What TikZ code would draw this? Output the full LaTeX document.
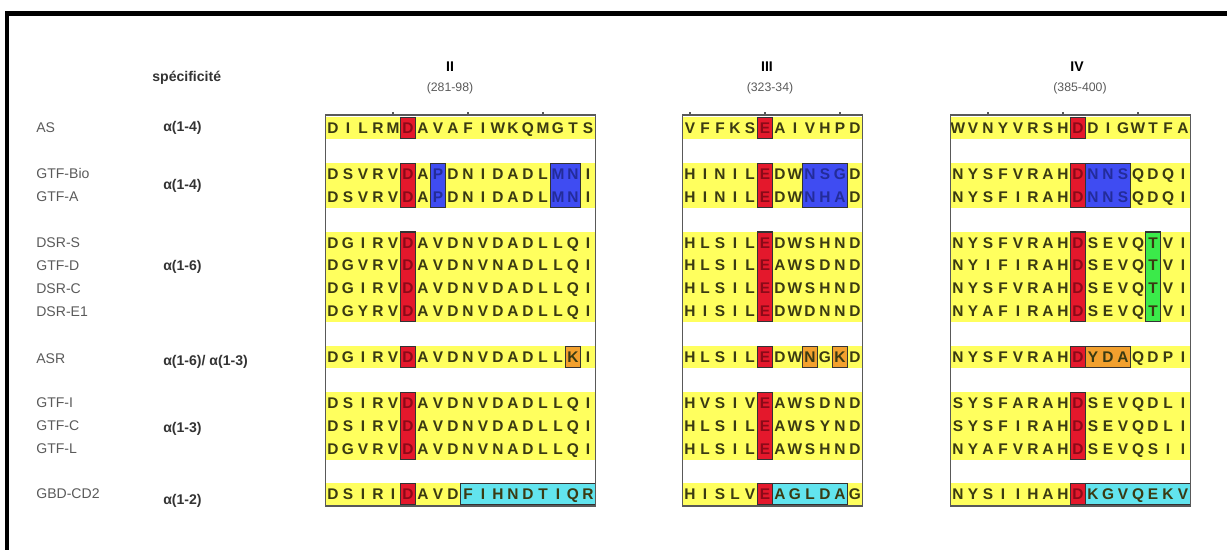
\documentclass[tikz,border=0pt]{standalone}
\usepackage{fontspec}
\setmainfont{Liberation Sans}
\setsansfont{Liberation Sans}
\usepackage{tikz}
\usetikzlibrary{positioning}
\definecolor{bandc}{HTML}{FFFF5E}
\definecolor{seqc}{HTML}{3A3A12}
\definecolor{namec}{HTML}{5A5A5A}
\definecolor{redc}{HTML}{E4182C}
\definecolor{redtx}{HTML}{8C0A18}
\definecolor{bluec}{HTML}{3F4CF2}
\definecolor{bluetx}{HTML}{232C9A}
\definecolor{orangec}{HTML}{F2A02E}
\definecolor{greenc}{HTML}{3BEA4A}
\definecolor{cyanc}{HTML}{62E4EE}
% row centre (pixels from the top)
\newcommand{\rowy}[1]{(128+22.9*(#1))}
% yellow band behind rows #1..#2
\newcommand{\yband}[2]{%
  \fill[bandc] (-7.5,{\rowy{#1}-11}) rectangle ({15*\ncol-7.5},{\rowy{#2}+11});
}
% coloured box over columns #1..#2, rows #3..#4
\newcommand{\hlbox}[5]{%
  \filldraw[#5] ({15*#1-7.5},{\rowy{#3}-10.5}) rectangle ({15*#2+7.5},{\rowy{#4}+10.5});
}
% letters of row #2 from column #3 on, in colour #5 ('-' = left for a box)
\newcommand{\seqpart}[5]{%
  \foreach \ch [count=\k from #3] in {#4} {%
    \if\ch-\relax\else\node[aa,text=#5] (#1-\k) at ({15*\k},{\rowy{#2}+5.5}) {\ch};\fi}
}
% one aligned sequence
\newcommand{\seqline}[3]{\seqpart{#1}{#2}{0}{#3}{seqc}}

\begin{document}
\begin{tikzpicture}[x=0.02cm,y=-0.02cm,
  aa/.style={font=\bfseries\fontsize{8.8}{9}\selectfont,text=seqc,inner sep=0pt,anchor=base},
  nm/.style={font=\fontsize{8}{9}\selectfont,text=namec,inner sep=0pt,anchor=west},
  sp/.style={font=\bfseries\fontsize{8}{9}\selectfont,text=black!80,inner sep=0pt,anchor=west},
  hd/.style={font=\bfseries\fontsize{8}{9}\selectfont,inner sep=0pt},
  rg/.style={font=\fontsize{7}{8}\selectfont,text=namec,inner sep=0pt},
  frm/.style={draw=black!65,line width=0.6pt},
  redbox/.style={fill=redc,draw=black!80,line width=0.6pt},
  bluebox/.style={fill=bluec,draw=black!80,line width=0.6pt},
  orbox/.style={fill=orangec,draw=black!80,line width=0.6pt},
  grbox/.style={fill=greenc,draw=black!80,line width=0.6pt},
  cyanbox/.style={fill=cyanc,draw=black!80,line width=0.6pt}]
  \useasboundingbox (0,0) rectangle (1227,549);
  \draw[line width=2.3pt] (7,13.5) rectangle (1260,590);

  % names and specificities
  \node[sp] (spec) at (152,78) {spécificité};
  \node[nm] (as) at (36,{\rowy{0}}) {AS};
  \node[nm] (bio) at (36,{\rowy{2}}) {GTF-Bio};
  \node[nm] (gtfa) at (36,{\rowy{3}}) {GTF-A};
  \node[nm] (dsrs) at (36,{\rowy{5}}) {DSR-S};
  \node[nm] (gtfd) at (36,{\rowy{6}}) {GTF-D};
  \node[nm] (dsrc) at (36,{\rowy{7}}) {DSR-C};
  \node[nm] (dsre) at (36,{\rowy{8}}) {DSR-E1};
  \node[nm] (asr) at (36,{\rowy{10}+2}) {ASR};
  \node[nm] (gtfi) at (36,{\rowy{12}}) {GTF-I};
  \node[nm] (gtfc) at (36,{\rowy{13}}) {GTF-C};
  \node[nm] (gtfl) at (36,{\rowy{14}}) {GTF-L};
  \node[nm] (gbd) at (36,{\rowy{16}-1}) {GBD-CD2};
  \node[sp] (sas) at (163,{\rowy{0}}) {α(1-4)};
  \node[sp] (sgtf) at (163,186) {α(1-4)};
  \node[sp] (sdsr) at (163,{\rowy{6}+1}) {α(1-6)};
  \node[sp] (sasr) at (163,{\rowy{10}+5}) {α(1-6)/ α(1-3)};
  \node[sp] (sgtfi) at (163,{\rowy{13}+3}) {α(1-3)};
  \node[sp] (sgbd) at (163,{\rowy{16}+6}) {α(1-2)};

  % region II
  \begin{scope}[shift={(333,0)}]
    \def\ncol{18}
    \node[hd] (h2) at (117,67) {II};
    \node[rg] (r2) at (117,88) {(281-98)};
    \foreach \a/\b in {0/0,2/3,5/8,10/10,12/14,16/16} {\yband{\a}{\b}}
    \hlbox{16}{16}{10}{10}{orbox}
    \hlbox{9}{17}{16}{16}{cyanbox}
    \foreach \a/\b in {0/0,2/3,5/8,10/10,12/14,16/16} {\hlbox{5}{5}{\a}{\b}{redbox}}
    \hlbox{7}{7}{2}{3}{bluebox}
    \hlbox{15}{16}{2}{3}{bluebox}
    \seqline{a2}{0}{D,I,L,R,M,-,A,V,A,F,I,W,K,Q,M,G,T,S}
    \seqline{b2}{2}{D,S,V,R,V,-,A,-,D,N,I,D,A,D,L,-,-,I}
    \seqline{c2}{3}{D,S,V,R,V,-,A,-,D,N,I,D,A,D,L,-,-,I}
    \seqline{d2}{5}{D,G,I,R,V,-,A,V,D,N,V,D,A,D,L,L,Q,I}
    \seqline{e2}{6}{D,G,V,R,V,-,A,V,D,N,V,N,A,D,L,L,Q,I}
    \seqline{f2}{7}{D,G,I,R,V,-,A,V,D,N,V,D,A,D,L,L,Q,I}
    \seqline{g2}{8}{D,G,Y,R,V,-,A,V,D,N,V,D,A,D,L,L,Q,I}
    \seqline{h2}{10}{D,G,I,R,V,-,A,V,D,N,V,D,A,D,L,L,K,I}
    \seqline{i2}{12}{D,S,I,R,V,-,A,V,D,N,V,D,A,D,L,L,Q,I}
    \seqline{j2}{13}{D,S,I,R,V,-,A,V,D,N,V,D,A,D,L,L,Q,I}
    \seqline{k2}{14}{D,G,V,R,V,-,A,V,D,N,V,N,A,D,L,L,Q,I}
    \seqline{l2}{16}{D,S,I,R,I,-,A,V,D,F,I,H,N,D,T,I,Q,R}
    \foreach \r in {0,2,3,5,6,7,8,10,12,13,14,16} {\seqpart{x2\r}{\r}{5}{D}{redtx}}
    \seqpart{y2b}{2}{7}{P}{bluetx}
    \seqpart{y2c}{3}{7}{P}{bluetx}
    \seqpart{z2b}{2}{15}{M,N}{bluetx}
    \seqpart{z2c}{3}{15}{M,N}{bluetx}
    \draw[frm] (-7.5,115) rectangle ({15*\ncol-7.5},506);
    \foreach \t in {4,9,14} {\draw[frm] ({15*\t},115) -- ({15*\t},112);}
  \end{scope}

  % region III
  \begin{scope}[shift={(690,0)}]
    \def\ncol{12}
    \node[hd] (h3) at (77,67) {III};
    \node[rg] (r3) at (80,88) {(323-34)};
    \foreach \a/\b in {0/0,2/3,5/8,10/10,12/14,16/16} {\yband{\a}{\b}}
    \hlbox{8}{8}{10}{10}{orbox}
    \hlbox{10}{10}{10}{10}{orbox}
    \hlbox{6}{10}{16}{16}{cyanbox}
    \foreach \a/\b in {0/0,2/3,5/8,10/10,12/14,16/16} {\hlbox{5}{5}{\a}{\b}{redbox}}
    \hlbox{8}{10}{2}{3}{bluebox}
    \seqline{a3}{0}{V,F,F,K,S,-,A,I,V,H,P,D}
    \seqline{b3}{2}{H,I,N,I,L,-,D,W,-,-,-,D}
    \seqline{c3}{3}{H,I,N,I,L,-,D,W,-,-,-,D}
    \seqline{d3}{5}{H,L,S,I,L,-,D,W,S,H,N,D}
    \seqline{e3}{6}{H,L,S,I,L,-,A,W,S,D,N,D}
    \seqline{f3}{7}{H,L,S,I,L,-,D,W,S,H,N,D}
    \seqline{g3}{8}{H,I,S,I,L,-,D,W,D,N,N,D}
    \seqline{h3}{10}{H,L,S,I,L,-,D,W,N,G,K,D}
    \seqline{i3}{12}{H,V,S,I,V,-,A,W,S,D,N,D}
    \seqline{j3}{13}{H,L,S,I,L,-,A,W,S,Y,N,D}
    \seqline{k3}{14}{H,L,S,I,L,-,A,W,S,H,N,D}
    \seqline{l3}{16}{H,I,S,L,V,-,A,G,L,D,A,G}
    \foreach \r in {0,2,3,5,6,7,8,10,12,13,14,16} {\seqpart{x3\r}{\r}{5}{E}{redtx}}
    \seqpart{y3b}{2}{8}{N,S,G}{bluetx}
    \seqpart{y3c}{3}{8}{N,H,A}{bluetx}
    \draw[frm] (-7.5,115) rectangle ({15*\ncol-7.5},506);
    \foreach \t in {0,5,10} {\draw[frm] ({15*\t},115) -- ({15*\t},112);}
  \end{scope}

  % region IV
  \begin{scope}[shift={(958,0)}]
    \def\ncol{16}
    \node[hd] (h4) at (119,67) {IV};
    \node[rg] (r4) at (122,88) {(385-400)};
    \foreach \a/\b in {0/0,2/3,5/8,10/10,12/14,16/16} {\yband{\a}{\b}}
    \hlbox{13}{13}{5}{8}{grbox}
    \hlbox{9}{11}{10}{10}{orbox}
    \hlbox{9}{15}{16}{16}{cyanbox}
    \foreach \a/\b in {0/0,2/3,5/8,10/10,12/14,16/16} {\hlbox{8}{8}{\a}{\b}{redbox}}
    \hlbox{9}{11}{2}{3}{bluebox}
    \seqline{a4}{0}{W,V,N,Y,V,R,S,H,-,D,I,G,W,T,F,A}
    \seqline{b4}{2}{N,Y,S,F,V,R,A,H,-,-,-,-,Q,D,Q,I}
    \seqline{c4}{3}{N,Y,S,F,I,R,A,H,-,-,-,-,Q,D,Q,I}
    \seqline{d4}{5}{N,Y,S,F,V,R,A,H,-,S,E,V,Q,T,V,I}
    \seqline{e4}{6}{N,Y,I,F,I,R,A,H,-,S,E,V,Q,T,V,I}
    \seqline{f4}{7}{N,Y,S,F,V,R,A,H,-,S,E,V,Q,T,V,I}
    \seqline{g4}{8}{N,Y,A,F,I,R,A,H,-,S,E,V,Q,T,V,I}
    \seqline{h4}{10}{N,Y,S,F,V,R,A,H,-,Y,D,A,Q,D,P,I}
    \seqline{i4}{12}{S,Y,S,F,A,R,A,H,-,S,E,V,Q,D,L,I}
    \seqline{j4}{13}{S,Y,S,F,I,R,A,H,-,S,E,V,Q,D,L,I}
    \seqline{k4}{14}{N,Y,A,F,V,R,A,H,-,S,E,V,Q,S,I,I}
    \seqline{l4}{16}{N,Y,S,I,I,H,A,H,-,K,G,V,Q,E,K,V}
    \foreach \r in {0,2,3,5,6,7,8,10,12,13,14,16} {\seqpart{x4\r}{\r}{8}{D}{redtx}}
    \seqpart{y4b}{2}{9}{N,N,S}{bluetx}
    \seqpart{y4c}{3}{9}{N,N,S}{bluetx}
    \draw[frm] (-7.5,115) rectangle ({15*\ncol-7.5},506);
    \foreach \t in {2,7,12} {\draw[frm] ({15*\t},115) -- ({15*\t},112);}
  \end{scope}
\end{tikzpicture}
\end{document}
